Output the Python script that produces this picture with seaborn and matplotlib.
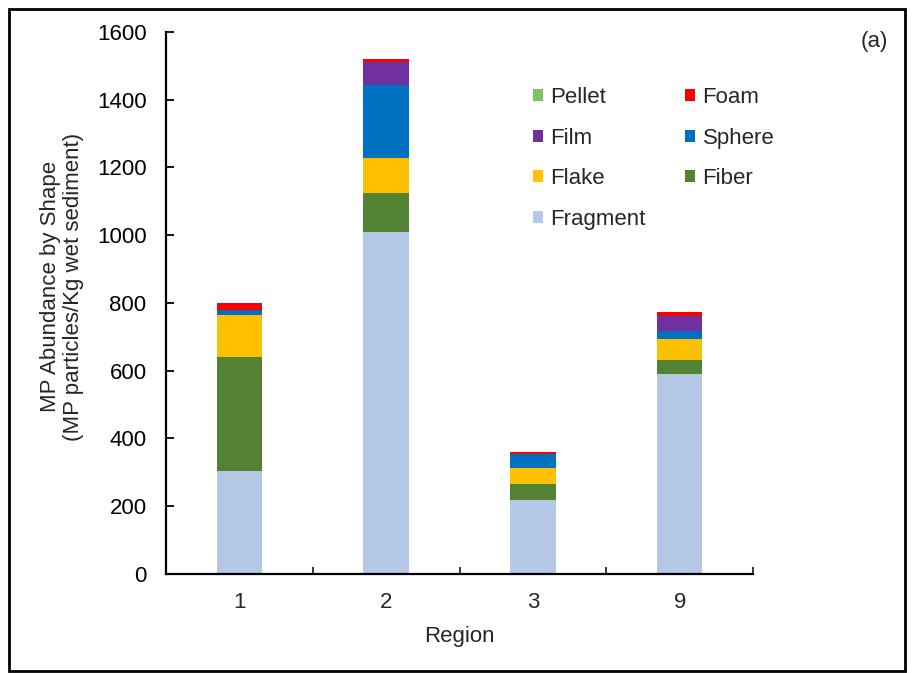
import matplotlib
matplotlib.use("Agg")
import matplotlib.pyplot as plt
from matplotlib.patches import Patch, Rectangle
import numpy as np
import pandas as pd
import seaborn as sns

# Microplastic abundance by shape per region (particles / kg wet sediment)
regions = ["1", "2", "3", "9"]
fragment = [304, 1009, 218, 590]
fiber = [337, 115, 48, 42]
flake = [124, 105, 47, 62]
sphere = [14, 215, 42, 23]
film = [0, 68, 0, 45]
foam = [22, 8, 5, 12]
pellet = [0, 0, 0, 0]

shapes = ["Fragment", "Fiber", "Flake", "Sphere", "Film", "Foam", "Pellet"]
series = [fragment, fiber, flake, sphere, film, foam, pellet]
colors = {
    "Fragment": "#B4C7E7",
    "Fiber": "#548235",
    "Flake": "#FFC000",
    "Sphere": "#0070C0",
    "Film": "#7030A0",
    "Foam": "#FF0000",
    "Pellet": "#7CC262",
}

FS = 16

sns.set_theme(style="white")
plt.rcParams["font.family"] = ["Liberation Sans", "DejaVu Sans"]

fig = plt.figure(figsize=(9.13, 6.73), dpi=100)
ax = fig.add_axes([0.1818, 0.1471, 0.6430, 0.8054])

# Stacked bars: draw cumulative totals from the top layer down
cum = np.cumsum(np.array(series), axis=0)
for i in range(len(shapes) - 1, -1, -1):
    df = pd.DataFrame({"Region": regions, "value": cum[i]})
    sns.barplot(data=df, x="Region", y="value", order=regions,
                color=colors[shapes[i]], saturation=1, width=0.31,
                linewidth=0, ax=ax, errorbar=None)

ax.set_xlim(-0.5, 3.5)
ax.set_ylim(0, 1600)
ax.set_yticks(np.arange(0, 1601, 200))
ax.tick_params(axis="y", direction="in", length=6, width=1.3, labelsize=FS,
               left=True, pad=14, colors="black")
ax.tick_params(axis="x", which="major", length=0, labelsize=FS, pad=13)
ax.set_xticks(np.arange(-0.5, 3.6, 1.0), minor=True)
ax.tick_params(axis="x", which="minor", direction="in", length=5, width=1.3,
               bottom=True)

for side in ["top", "right"]:
    ax.spines[side].set_visible(False)
for side in ["left", "bottom"]:
    ax.spines[side].set_color("black")
    ax.spines[side].set_linewidth(1.6)

ax.set_xlabel("Region", fontsize=FS, labelpad=9)
ax.set_ylabel("MP Abundance by Shape\n(MP particles/Kg wet sediment)",
              fontsize=FS, labelpad=9, linespacing=1.15)
ax.yaxis.label.set_y(0.53)

legend_order = ["Pellet", "Film", "Flake", "Fragment", "Foam", "Sphere", "Fiber"]
handles = [Patch(facecolor=colors[s], edgecolor="none", label=s) for s in legend_order]
fig.legend(handles=handles, loc="upper left", bbox_to_anchor=(0.5838, 0.871),
           ncol=2, frameon=False, fontsize=FS, handlelength=0.45, handleheight=0.45,
           handletextpad=0.32, labelspacing=0.89, columnspacing=1.8,
           borderpad=0, borderaxespad=0)

fig.text(874 / 913, 1 - 41 / 673, "(a)", fontsize=FS, ha="center", va="center")

fig.add_artist(Rectangle((9 / 913, 2 / 673), 896 / 913, 662 / 673,
                         transform=fig.transFigure, fill=False,
                         edgecolor="black", linewidth=2))

fig.savefig("out.png", dpi=100)
